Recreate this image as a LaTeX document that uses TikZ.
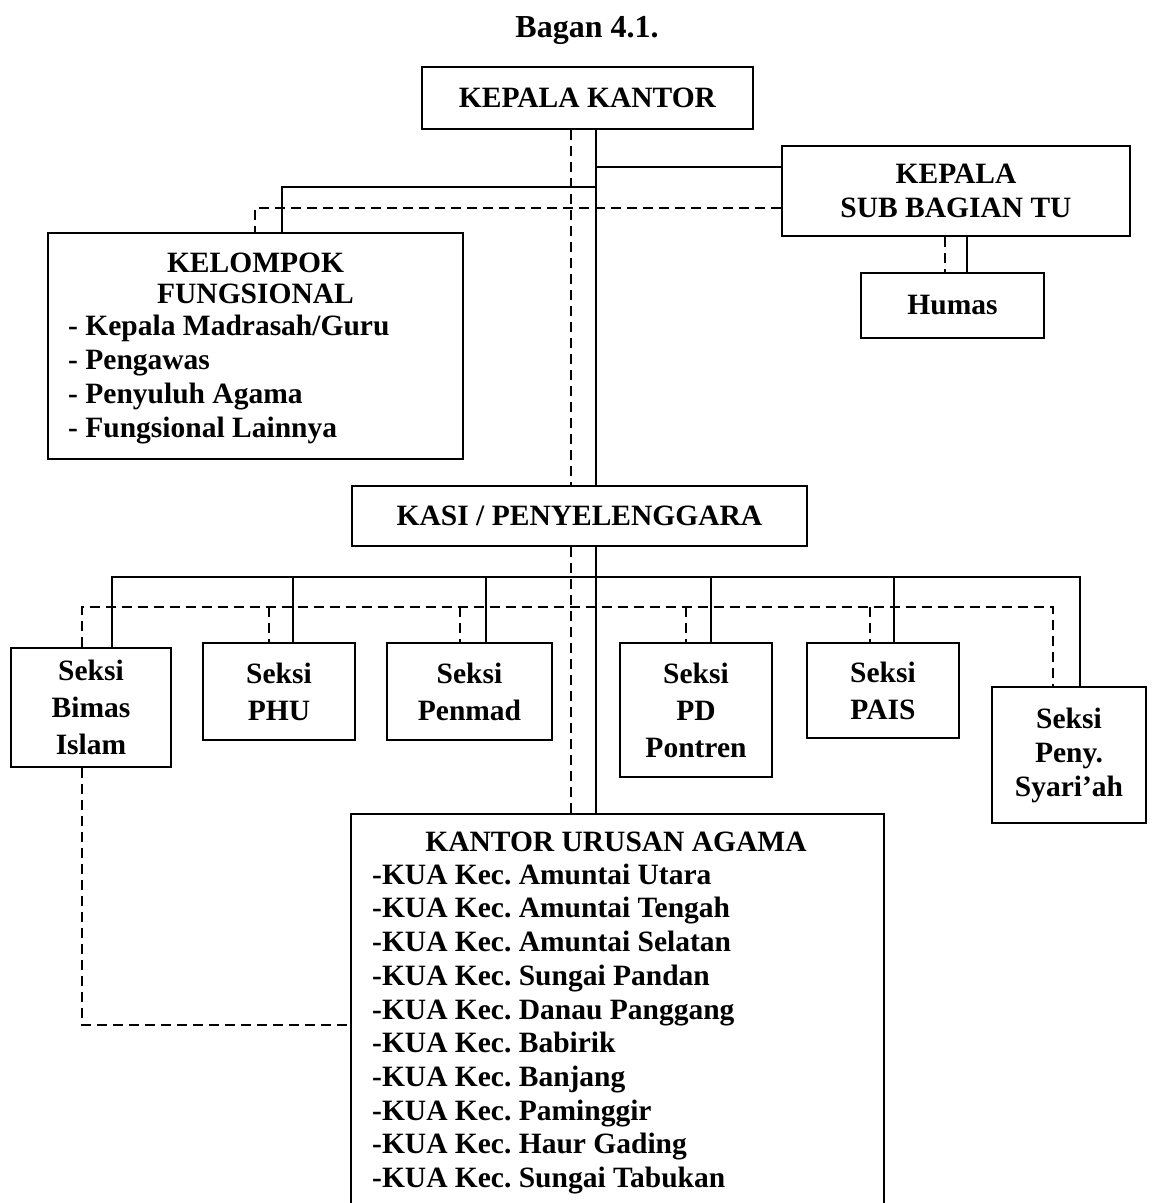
\documentclass[tikz,border=0pt]{standalone}
\usepackage{fontspec}
\setmainfont{Liberation Serif}
\usetikzlibrary{calc}
\frenchspacing
\begin{document}
\begin{tikzpicture}[x=1pt,y=-1pt,
  box/.style={draw, line width=1.6pt, inner sep=0pt, font=\bfseries\fontsize{29.5}{34}\selectfont, align=center},
  sbox/.style={box, font=\bfseries\fontsize{29.5}{37}\selectfont},
  txt/.style={inner sep=0pt, font=\bfseries\fontsize{29.5}{33.7}\selectfont},
  ln/.style={line width=1.6pt},
  dl/.style={line width=2.4pt, dash pattern=on 10pt off 6pt}]
\useasboundingbox (0,0) rectangle (1158,1203);
\clip (0,0) rectangle (1158,1203);

% title
\node[txt, font=\bfseries\fontsize{32}{38}\selectfont, anchor=base] (title) at (587,37) {Bagan 4.1.};

% top boxes
\node[box, minimum width=331pt, minimum height=62pt] (kk) at (587.5,98) {KEPALA KANTOR};
\node[box, minimum width=348pt, minimum height=90pt] (sub) at (956,191) {KEPALA\\SUB BAGIAN TU};
\node[box, minimum width=183pt, minimum height=65pt] (hum) at (952.5,305.5) {Humas};
\node[box, minimum width=415pt, minimum height=226pt] (kel) at (255.5,346) {};
\node[txt, align=center, anchor=base, font=\bfseries\fontsize{29.5}{31}\selectfont] (kelt) at (255.5,303) {KELOMPOK\\FUNGSIONAL};
\node[txt, align=left, anchor=base west] (kell) at (68,437) {- Kepala Madrasah/Guru\\- Pengawas\\- Penyuluh Agama\\- Fungsional Lainnya};
\node[box, minimum width=455pt, minimum height=60pt] (kasi) at (579.5,516) {KASI / PENYELENGGARA};

% seksi boxes
\node[sbox, minimum width=160pt, minimum height=119pt] (bimas) at (91,707.5) {Seksi\\Bimas\\Islam};
\node[sbox, minimum width=152pt, minimum height=97pt] (phu) at (279,691.5) {Seksi\\PHU};
\node[sbox, minimum width=165pt, minimum height=97pt] (pen) at (469.5,691.5) {Seksi\\Penmad};
\node[sbox, minimum width=152pt, minimum height=134pt] (pdp) at (696,710) {Seksi\\PD\\Pontren};
\node[sbox, minimum width=152pt, minimum height=95pt] (pais) at (883,690.5) {Seksi\\PAIS};
\node[box, minimum width=154pt, minimum height=136pt] (syar) at (1069,755) {Seksi\\Peny.\\Syari’ah};

% KUA box (runs off the bottom)
\node[draw, line width=1.6pt, anchor=north west, minimum width=533pt, minimum height=410pt, inner sep=0pt] (kua) at (350,813) {};
\node[txt, anchor=base] (kuat) at (616,851) {KANTOR URUSAN AGAMA};
\node[txt, align=left, anchor=base west] (kual) at (372,1187.5) {-KUA Kec. Amuntai Utara\\-KUA Kec. Amuntai Tengah\\-KUA Kec. Amuntai Selatan\\-KUA Kec. Sungai Pandan\\-KUA Kec. Danau Panggang\\-KUA Kec. Babirik\\-KUA Kec. Banjang\\-KUA Kec. Paminggir\\-KUA Kec. Haur Gading\\-KUA Kec. Sungai Tabukan};

% main verticals
\coordinate (sx) at (596,0);
\coordinate (dx) at (571,0);
\draw[ln] (kk.south -| sx) -- (kasi.north -| sx);
\draw[ln] (kasi.south -| sx) -- (kua.north -| sx);
\draw[dl] (kk.south -| dx) -- (kasi.north -| dx);
\draw[dl] (kasi.south -| dx) -- (kua.north -| dx);

% to sub bagian and kelompok
\coordinate (ysub) at (0,167);
\draw[ln] (sx |- ysub) -- (sub.west |- ysub);
\coordinate (kx) at (282,187);
\draw[ln] (sx |- kx) -- (kx) -- (kel.north -| kx);
\coordinate (kd) at (255,208);
\draw[dl] (sub.west |- kd) -- (kd) -- (kel.north -| kd);
\coordinate (hx) at (967,0);
\coordinate (hd) at (945,0);
\draw[ln] (sub.south -| hx) -- (hum.north -| hx);
\draw[dl] (sub.south -| hd) -- (hum.north -| hd);

% solid bus
\coordinate (b1) at (112,577);
\coordinate (b2) at (293,577);
\coordinate (b3) at (486,577);
\coordinate (b4) at (711,577);
\coordinate (b5) at (894,577);
\coordinate (b6) at (1080,577);
\draw[ln] (bimas.north -| b1) -- (b1) -- (b6) -- (syar.north -| b6);
\foreach \n/\c in {phu/b2, pen/b3, pdp/b4, pais/b5} \draw[ln] (\c) -- (\n.north -| \c);

% dashed bus
\coordinate (d1) at (82,607);
\coordinate (d2) at (269,607);
\coordinate (d3) at (460,607);
\coordinate (d4) at (686,607);
\coordinate (d5) at (870,607);
\coordinate (d6) at (1053,607);
\draw[dl] (bimas.north -| d1) -- (d1) -- (d6) -- (syar.north -| d6);
\foreach \n/\c in {phu/d2, pen/d3, pdp/d4, pais/d5} \draw[dl] (\c) -- (\n.north -| \c);

% bimas to KUA
\coordinate (bd) at (82,1025);
\draw[dl] (bimas.south -| bd) -- (bd) -- (kua.west |- bd);
\end{tikzpicture}
\end{document}
